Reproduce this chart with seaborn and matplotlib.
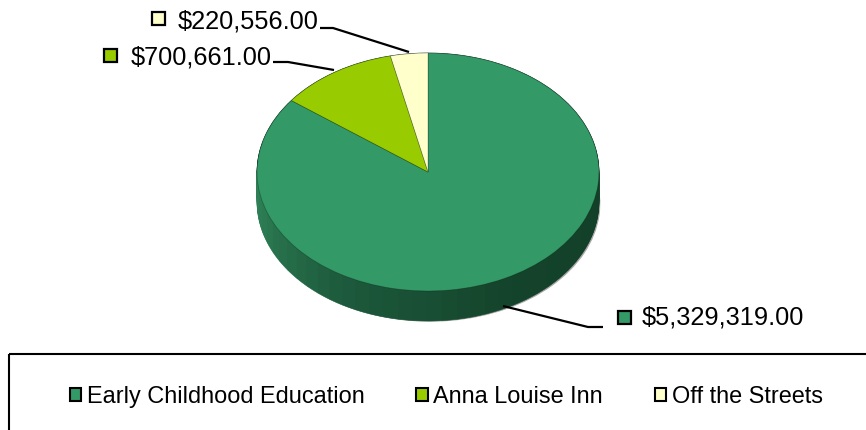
import matplotlib
matplotlib.use("Agg")
import matplotlib.pyplot as plt
from matplotlib.patches import Patch, Rectangle
import seaborn as sns

categories = ["Early Childhood Education", "Anna Louise Inn", "Off the Streets"]
values = [5329319.00, 700661.00, 220556.00]
value_labels = ["$5,329,319.00", "$700,661.00", "$220,556.00"]
colors = ["#339966", "#99CC00", "#FFFFCC"]

sns.set_theme(style="white")
plt.rcParams['font.family'] = ['Liberation Sans', 'DejaVu Sans']

W, H = 866, 430
fig = plt.figure(figsize=(W / 100, H / 100), dpi=100, facecolor="white")

# pie axes: ellipse x 257..599, y 53..291, depth to y=321
cx0, cx1, top, ell_bottom, bottom = 257, 599, 53, 291, 321
ax = fig.add_axes([cx0 / W, (H - bottom) / H, (cx1 - cx0) / W, (bottom - top) / H])
ry = (ell_bottom - top) / 2
depth = (bottom - ell_bottom) / ry

# side wall shading, light on the left to dark on the right
n_seg = 72
half = sns.blend_palette(["#2f8459", "#1d5a3c", "#14432b", "#123f28"], n_seg // 2)
side_colors = list(half) + [half[-1]] * (n_seg // 2)
seg = [1] * n_seg

# grey shadow under the wall
ax.pie(values, center=(0.012, -depth - 0.012), colors=["#a8a8a8"] * 3, startangle=90, counterclock=False)
for k in range(30, -1, -1):
    side, _ = ax.pie(seg, center=(0, -depth * k / 30), colors=side_colors, startangle=180,
                     counterclock=True)
    for w in side:
        w.set_edgecolor(w.get_facecolor())
        w.set_linewidth(0.4)
wedges, _ = ax.pie(values, colors=colors, startangle=90, counterclock=False,
                   wedgeprops=dict(linewidth=0.6, edgecolor=(0, 0, 0, 0.25)))
ax.set_aspect("auto")
ax.set_xlim(-1, 1)
ax.set_ylim(-1 - depth, 1)
ax.axis("off")

# overlay in image pixels for labels, leaders and the legend box
ov = fig.add_axes([0, 0, 1, 1], facecolor="none")
ov.set_xlim(0, W)
ov.set_ylim(H, 0)
ov.axis("off")

leaders = [
    ([503, 588, 603], [306, 327, 327]),
    ([334, 288, 273], [70, 62, 62]),
    ([409, 333, 320], [52, 28, 28]),
]
label_pos = [(642, 318), (131, 57), (178, 21)]
box_pos = [(617.5, 310.5), (104, 48.5), (151.5, 12)]
for xs, ys in leaders:
    ov.plot(xs, ys, color="black", lw=1.6, solid_capstyle="butt")
for txt, (x, y), (bx, by), c in zip(value_labels, label_pos, box_pos, colors):
    ov.text(x, y, txt, fontsize=18.3, color="black", va="center", ha="left")
    ov.add_patch(Rectangle((bx, by), 13, 13, facecolor=c, edgecolor="black", lw=1.6))

ov.add_patch(Rectangle((9, 354), 900, 120, facecolor="none", edgecolor="black", lw=1.5, clip_on=True))
handles = [Patch(facecolor=c, edgecolor="black", lw=1.5) for c in colors]
ov.legend(handles, categories, ncols=3, loc="center left", bbox_to_anchor=(69.5, 397),
          bbox_transform=ov.transData, frameon=False, fontsize=16.95, labelcolor="black",
          handlelength=0.48, handleheight=0.48, handletextpad=0.25,
          columnspacing=2.2, borderpad=0, borderaxespad=0)

fig.savefig("out.png", dpi=100, facecolor="white")
